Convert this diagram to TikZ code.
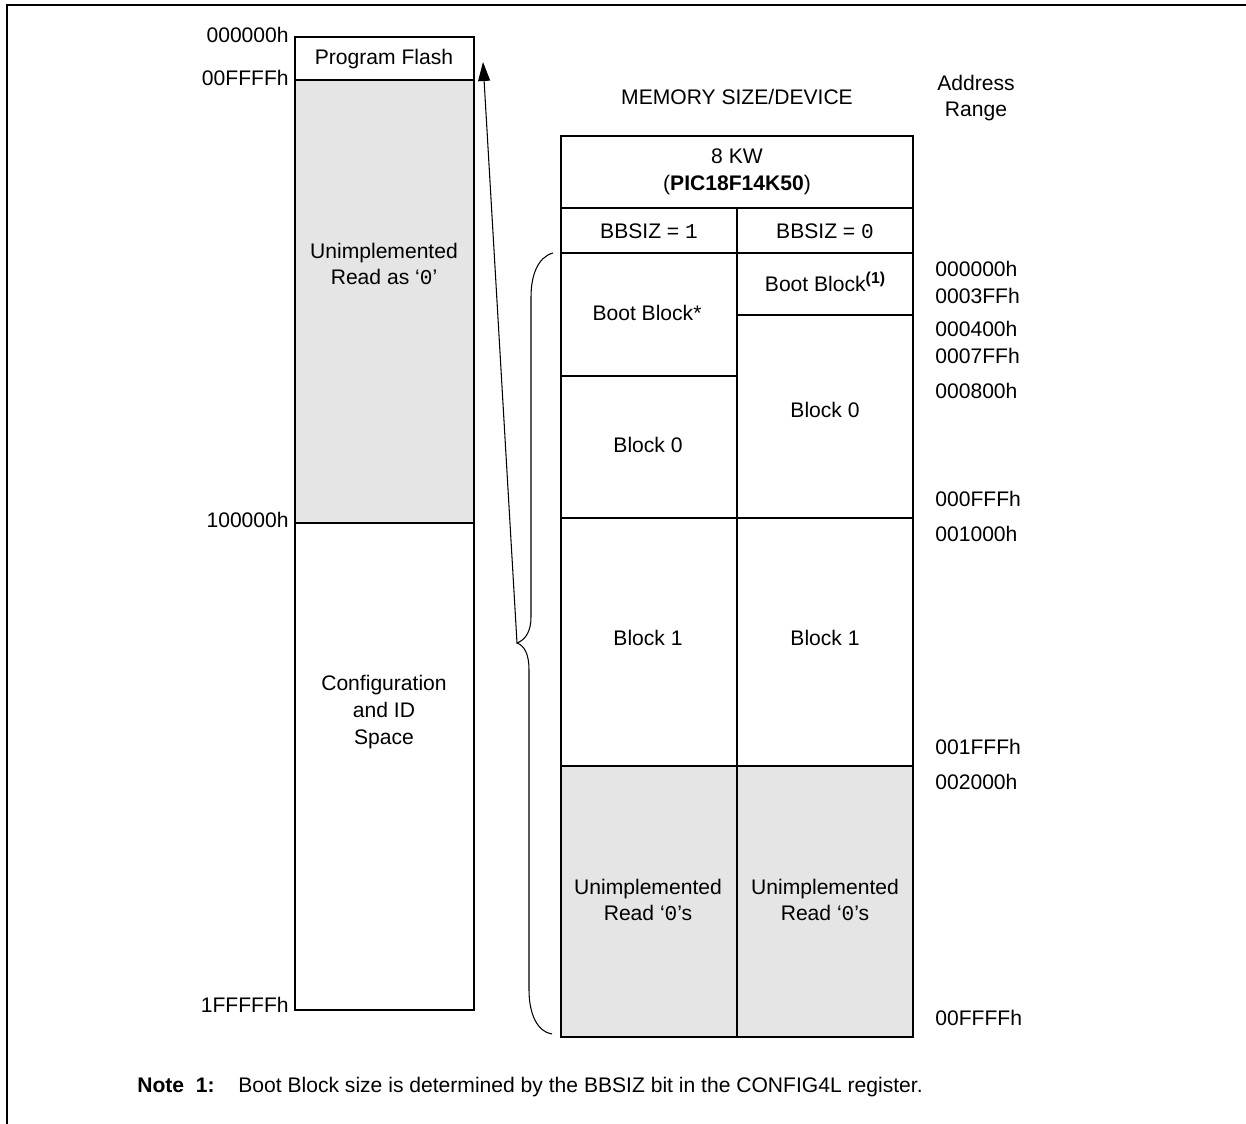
\documentclass[tikz,border=0pt]{standalone}
\usepackage{fontspec}
\setmainfont{Liberation Sans}
\setmonofont{Liberation Mono}
\usepackage{tikz}
\usetikzlibrary{positioning, calc, arrows.meta}

\definecolor{unimplgray}{RGB}{229,229,229}

\begin{document}
\begin{tikzpicture}[x=0.02cm, y=-0.02cm,
    every node/.style={font=\fontsize{12}{15.3}\selectfont, inner sep=0pt, align=center},
    memcell/.style={draw=black, line width=1.4pt},
    unused/.style={memcell, fill=unimplgray},
    addr/.style={anchor=west},
    leftaddr/.style={anchor=base east},
  ]
  \useasboundingbox (0, 0) rectangle (1246, 1124);

  % Page frame
  \draw[line width=1.2pt] (7, 1124) -- (7, 5) -- (1246, 5);

  % Program memory map
  \draw[unused] (295, 80) rectangle (474, 523);
  \draw[memcell] (295, 37) rectangle (474, 80);
  \draw[memcell] (295, 523) rectangle (474, 1010);

  \node (pflash) at (384, 59) {Program Flash};
  \node (unimplflash) at (384, 264) {Unimplemented\\Read as `\texttt{0}'};
  \node (config) at (384, 712) {Configuration\\and ID\\Space};

  \node[leftaddr] (pf-start) at (289, 43) {000000h};
  \node[leftaddr] (pf-end) at (289, 86) {00FFFFh};
  \node[leftaddr] (cfg-start) at (289, 527) {100000h};
  \node[leftaddr] (cfg-end) at (289, 1012) {1FFFFFh};

  % Device table
  \node (memsize) at (737, 97) {MEMORY SIZE/DEVICE};
  \node (addrrange) at (976, 98) {Address\\Range};

  \draw[unused] (561, 766) rectangle (737, 1037);
  \draw[unused] (737, 766) rectangle (913, 1037);
  \draw[memcell] (561, 136) rectangle (913, 208);
  \draw[memcell] (561, 208) rectangle (737, 253);
  \draw[memcell] (737, 208) rectangle (913, 253);
  \foreach \top/\bot in {253/376, 376/518, 518/766}
    \draw[memcell] (561, \top) rectangle (737, \bot);
  \foreach \top/\bot in {253/315, 315/518, 518/766}
    \draw[memcell] (737, \top) rectangle (913, \bot);

  \node (device) at (737, 172) {8 KW\\(\textbf{PIC18F14K50})};
  \node (bbsiz1) at (649, 231) {BBSIZ = \texttt{1}};
  \node (bbsiz0) at (825, 231) {BBSIZ = \texttt{0}};

  \node (bootA) at (647, 313) {Boot Block*};
  \node (blk0A) at (648, 445) {Block 0};
  \node (blk1A) at (648, 638) {Block 1};
  \node (unimplA) at (648, 900) {Unimplemented\\Read `\texttt{0}'s};

  \node (bootB) at (825, 282)
    {Boot Block\raisebox{0.75ex}{\fontsize{9}{9}\selectfont\bfseries(1)}};
  \node (blk0B) at (825, 410) {Block 0};
  \node (blk1B) at (825, 638) {Block 1};
  \node (unimplB) at (825, 900) {Unimplemented\\Read `\texttt{0}'s};

  % Address range column
  \foreach \y/\a in {269/000000h, 296/0003FFh, 329/000400h, 356/0007FFh,
                     391/000800h, 499/000FFFh, 534/001000h, 747/001FFFh,
                     782/002000h, 1018/00FFFFh}
    \node[addr] (addr-\a) at (935, \y) {\a};

  % Brace and arrow back to the program flash
  \draw[line width=0.6pt] (553, 253) .. controls (538, 257) and (531, 275) .. (531, 297)
    -- (531, 617) .. controls (531, 632) and (525, 640) .. (517, 643)
    .. controls (525, 646) and (529, 655) .. (529, 670)
    -- (529, 990) .. controls (529, 1015) and (538, 1032) .. (552, 1034);

  \coordinate (bracetip) at (517, 643);
  \coordinate (flashtip) at (483, 62);
  \draw[line width=0.6pt, -{Triangle[length=3.8mm, width=2.4mm]}] (bracetip) -- (flashtip);

  % Note
  \node[anchor=base west] (notelabel) at (137, 1092) {\textbf{Note\ \ 1:}};
  \node[anchor=base west] (notetext) at (238, 1092)
    {Boot Block size is determined by the BBSIZ bit in the CONFIG4L register.};
\end{tikzpicture}
\end{document}
